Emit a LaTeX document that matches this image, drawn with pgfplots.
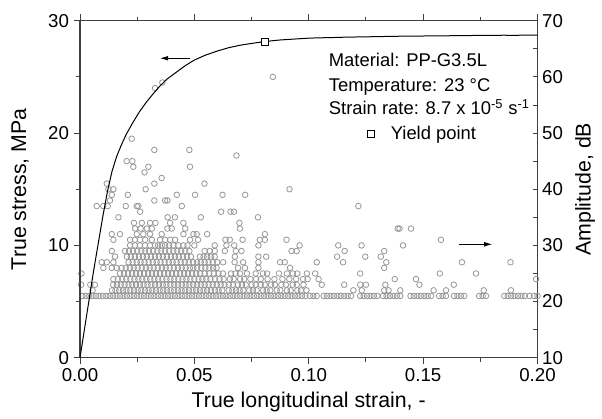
\documentclass[border=0pt]{standalone}
\usepackage{fontspec}
\setmainfont{Liberation Sans}
\usepackage{pgfplots}
\pgfplotsset{compat=1.18}
\usetikzlibrary{arrows.meta}
\definecolor{aegray}{RGB}{150,150,150}

\pgfplotstableread{
x y
0 0
0.002 2.6
0.004 5.2
0.006 7.8
0.008 10.2
0.010 12.6
0.012 14.8
0.014 16.6
0.016 17.9
0.018 18.9
0.020 19.8
0.023 20.9
0.026 21.9
0.029 22.75
0.032 23.5
0.035 24.2
0.038 24.8
0.042 25.4
0.046 26.0
0.050 26.5
0.055 26.95
0.060 27.3
0.065 27.6
0.070 27.82
0.075 27.98
0.081 28.15
0.087 28.28
0.093 28.36
0.100 28.45
0.105 28.48
0.110 28.5
0.115 28.53
0.120 28.55
0.125 28.57
0.130 28.58
0.135 28.61
0.140 28.62
0.145 28.62
0.150 28.64
0.155 28.66
0.160 28.66
0.165 28.67
0.170 28.68
0.175 28.7
0.180 28.69
0.185 28.71
0.190 28.7
0.195 28.72
0.200 28.72
}\stresscurve

\newcommand{\annfont}{\fontsize{13.8}{16}\selectfont}

\pgfplotsset{
  common/.style={
    scale only axis, width=343.1pt, height=252.75pt,
    xmin=0, xmax=0.2,
    axis line style={line width=0.8pt, black!75},
    every tick/.style={line width=0.7pt, black!75},
    tick label style={font=\fontsize{14}{16}\selectfont},
    label style={font=\fontsize{16}{18}\selectfont},
    /pgf/number format/assume math mode=true,
  }
}

\begin{document}
\begin{tikzpicture}[x=1pt,y=1pt]
\useasboundingbox (-60,-45.2) rectangle (391.5,268.3);

% Amplitude axis (right)
\begin{axis}[common,
  axis x line=none, axis y line*=right,
  ymin=10, ymax=70, ytick={10,20,30,40,50,60,70}, minor y tick num=1,
  tick align=inside, major tick length=3.2pt, minor tick length=3.2pt,
  ylabel={Amplitude, dB},
  ylabel style={at={(axis description cs:1.104,0.5)}, anchor=center},
]
\addplot[only marks, mark=o, mark size=2.1pt, color=aegray, mark options={line width=0.6pt}] coordinates {
(0.0010,21) (0.0025,21) (0.0040,21) (0.0055,21) (0.0070,21) (0.0085,21) (0.0100,21) (0.0115,21) (0.0130,21) (0.0145,21)
(0.0160,21) (0.0175,21) (0.0190,21) (0.0205,21) (0.0220,21) (0.0235,21) (0.0250,21) (0.0265,21) (0.0280,21) (0.0295,21)
(0.0310,21) (0.0325,21) (0.0340,21) (0.0355,21) (0.0370,21) (0.0385,21) (0.0400,21) (0.0415,21) (0.0430,21) (0.0445,21)
(0.0460,21) (0.0475,21) (0.0490,21) (0.0505,21) (0.0520,21) (0.0535,21) (0.0550,21) (0.0565,21) (0.0580,21) (0.0595,21)
(0.0610,21) (0.0625,21) (0.0640,21) (0.0655,21) (0.0670,21) (0.0685,21) (0.0700,21) (0.0715,21) (0.0730,21) (0.0745,21)
(0.0760,21) (0.0775,21) (0.0790,21) (0.0805,21) (0.0820,21) (0.0835,21) (0.0850,21) (0.0865,21) (0.0880,21) (0.0895,21)
(0.0910,21) (0.0925,21) (0.0940,21) (0.0955,21) (0.0970,21) (0.0985,21)
(0.1005,21) (0.1020,21) (0.1035,21) (0.1065,21) (0.1080,21) (0.1095,21) (0.1110,21) (0.1125,21) (0.1140,21) (0.1155,21)
(0.1170,21) (0.1185,21) (0.1225,21) (0.1240,21) (0.1255,21) (0.1270,21) (0.1285,21) (0.1300,21) (0.1325,21) (0.1340,21)
(0.1355,21) (0.1370,21) (0.1385,21) (0.1400,21) (0.1445,21) (0.1460,21) (0.1475,21) (0.1490,21) (0.1505,21) (0.1520,21)
(0.1535,21) (0.1570,21) (0.1585,21) (0.1600,21) (0.1635,21) (0.1650,21) (0.1665,21) (0.1680,21) (0.1745,21) (0.1760,21)
(0.1775,21) (0.1855,21) (0.1870,21) (0.1885,21) (0.1900,21) (0.1915,21) (0.1930,21) (0.1945,21) (0.1965,21) (0.1985,21) (0.2000,21)
(0.0055,22) (0.0140,22) (0.0155,22) (0.0172,22) (0.0188,22) (0.0203,22) (0.0220,22) (0.0236,22) (0.0252,22) (0.0268,22)
(0.0284,22) (0.0300,22) (0.0316,22) (0.0332,22) (0.0348,22) (0.0364,22) (0.0380,22) (0.0396,22) (0.0412,22) (0.0428,22)
(0.0444,22) (0.0460,22) (0.0476,22) (0.0492,22) (0.0508,22) (0.0524,22) (0.0540,22) (0.0556,22) (0.0572,22) (0.0590,22)
(0.0606,22) (0.0622,22) (0.0650,22) (0.0666,22) (0.0682,22) (0.0698,22) (0.0714,22) (0.0740,22) (0.0756,22) (0.0772,22)
(0.0800,22) (0.0816,22) (0.0832,22) (0.0860,22) (0.0876,22) (0.0905,22) (0.0921,22) (0.0950,22) (0.0966,22) (0.0990,22)
(0.1195,22) (0.1232,22) (0.1330,22) (0.1349,22) (0.1400,22) (0.1546,22) (0.1600,22) (0.1765,22) (0.1884,22)
(0.0005,23) (0.0045,23) (0.0065,23) (0.0145,23) (0.0162,23) (0.0178,23) (0.0195,23) (0.0212,23) (0.0228,23) (0.0245,23)
(0.0262,23) (0.0278,23) (0.0295,23) (0.0312,23) (0.0328,23) (0.0345,23) (0.0362,23) (0.0378,23) (0.0395,23) (0.0412,23)
(0.0428,23) (0.0445,23) (0.0462,23) (0.0478,23) (0.0495,23) (0.0512,23) (0.0528,23) (0.0545,23) (0.0562,23) (0.0580,23)
(0.0598,23) (0.0615,23) (0.0632,23) (0.0650,23) (0.0668,23) (0.0690,23) (0.0708,23) (0.0725,23) (0.0750,23) (0.0768,23)
(0.0790,23) (0.0808,23) (0.0835,23) (0.0852,23) (0.0880,23) (0.0900,23) (0.0930,23) (0.0948,23) (0.0977,23)
(0.1057,23) (0.1155,23) (0.1225,23) (0.1250,23) (0.1335,23) (0.1484,23) (0.1634,23)
(0.0146,24) (0.0165,24) (0.0185,24) (0.0202,24) (0.0220,24) (0.0238,24) (0.0255,24) (0.0272,24) (0.0290,24) (0.0307,24)
(0.0325,24) (0.0342,24) (0.0360,24) (0.0378,24) (0.0395,24) (0.0412,24) (0.0430,24) (0.0448,24) (0.0465,24) (0.0482,24)
(0.0500,24) (0.0518,24) (0.0535,24) (0.0552,24) (0.0570,24) (0.0590,24) (0.0610,24) (0.0628,24) (0.0655,24) (0.0672,24)
(0.0700,24) (0.0718,24) (0.0745,24) (0.0770,24) (0.0790,24) (0.0820,24) (0.0850,24) (0.0885,24) (0.0915,24) (0.0945,24)
(0.0975,24) (0.0995,24) (0.1043,24) (0.1376,24) (0.1469,24) (0.1994,24)
(0.0006,25) (0.0175,25) (0.0192,25) (0.0210,25) (0.0228,25) (0.0245,25) (0.0262,25) (0.0280,25) (0.0298,25) (0.0315,25)
(0.0332,25) (0.0350,25) (0.0368,25) (0.0385,25) (0.0402,25) (0.0420,25) (0.0438,25) (0.0455,25) (0.0472,25) (0.0490,25)
(0.0508,25) (0.0525,25) (0.0545,25) (0.0565,25) (0.0585,25) (0.0605,25) (0.0625,25) (0.0660,25) (0.0680,25) (0.0700,25)
(0.0730,25) (0.0768,25) (0.0800,25) (0.0818,25) (0.0870,25) (0.0905,25) (0.0930,25) (0.0950,25)
(0.0992,25) (0.1028,25) (0.1225,25) (0.1573,25) (0.1731,25)
(0.0102,26) (0.0139,26) (0.0160,26) (0.0182,26) (0.0200,26) (0.0218,26) (0.0235,26) (0.0252,26) (0.0270,26) (0.0288,26)
(0.0305,26) (0.0322,26) (0.0340,26) (0.0358,26) (0.0375,26) (0.0392,26) (0.0410,26) (0.0428,26) (0.0445,26) (0.0462,26)
(0.0480,26) (0.0495,26) (0.0512,26) (0.0530,26) (0.0548,26) (0.0565,26) (0.0582,26) (0.0597,26) (0.0691,26) (0.0721,26)
(0.0780,26) (0.0918,26) (0.1330,26)
(0.0095,27) (0.0117,27) (0.0146,27) (0.0212,27) (0.0230,27) (0.0248,27) (0.0265,27) (0.0282,27) (0.0300,27) (0.0318,27)
(0.0335,27) (0.0352,27) (0.0370,27) (0.0388,27) (0.0405,27) (0.0422,27) (0.0440,27) (0.0458,27) (0.0475,27) (0.0495,27)
(0.0512,27) (0.0528,27) (0.0545,27) (0.0562,27) (0.0580,27) (0.0600,27) (0.0626,27) (0.0676,27) (0.0713,27) (0.0780,27)
(0.0875,27) (0.0895,27) (0.1035,27) (0.1150,27) (0.1339,27) (0.1670,27) (0.1882,27)
(0.0153,28) (0.0205,28) (0.0222,28) (0.0240,28) (0.0258,28) (0.0275,28) (0.0292,28) (0.0310,28) (0.0328,28) (0.0345,28)
(0.0362,28) (0.0380,28) (0.0398,28) (0.0415,28) (0.0432,28) (0.0450,28) (0.0468,28) (0.0485,28) (0.0524,28) (0.0540,28)
(0.0556,28) (0.0572,28) (0.0589,28) (0.0677,28) (0.0780,28) (0.0814,28) (0.1124,28) (0.1247,28) (0.1315,28)
(0.0139,29) (0.0197,29) (0.0214,29) (0.0232,29) (0.0250,29) (0.0268,29) (0.0285,29) (0.0302,29) (0.0320,29) (0.0338,29)
(0.0355,29) (0.0372,29) (0.0390,29) (0.0408,29) (0.0425,29) (0.0442,29) (0.0460,29) (0.0478,29) (0.0545,29) (0.0567,29)
(0.0589,29) (0.0633,29) (0.0681,29) (0.0706,29) (0.0925,29) (0.0947,29) (0.1157,29) (0.1330,29)
(0.0219,30) (0.0240,30) (0.0262,30) (0.0284,30) (0.0306,30) (0.0328,30) (0.0342,30) (0.0358,30) (0.0372,30) (0.0390,30)
(0.0408,30) (0.0430,30) (0.0452,30) (0.0470,30) (0.0500,30) (0.0589,30) (0.0640,30) (0.0674,30) (0.0780,30) (0.0960,30)
(0.1129,30) (0.1231,30) (0.1412,30)
(0.0146,31) (0.0219,31) (0.0240,31) (0.0262,31) (0.0285,31) (0.0314,31) (0.0350,31) (0.0372,31) (0.0394,31) (0.0416,31)
(0.0481,31) (0.0516,31) (0.0636,31) (0.0655,31) (0.0711,31) (0.0786,31) (0.0808,31) (0.0903,31) (0.1578,31)
(0.0139,32) (0.0175,32) (0.0248,32) (0.0277,32) (0.0306,32) (0.0357,32) (0.0452,32) (0.0496,32) (0.0510,32) (0.0556,32) (0.0808,32)
(0.0241,33) (0.0265,33) (0.0292,33) (0.0314,33) (0.0382,33) (0.0401,33) (0.0460,33) (0.0699,33) (0.1389,33) (0.1397,33) (0.1447,33)
(0.0236,34) (0.0270,34) (0.0306,34) (0.0330,34) (0.0394,34) (0.0452,34) (0.0697,34)
(0.0168,35) (0.0383,35) (0.0415,35) (0.0528,35) (0.0778,35)
(0.0263,36) (0.0617,36) (0.0658,36) (0.0673,36)
(0.0073,37) (0.0102,37) (0.0121,37) (0.0200,37) (0.0248,37) (0.0255,37) (0.0445,37) (0.1217,37)
(0.0131,38) (0.0325,38) (0.0372,38) (0.0382,38)
(0.0139,39) (0.0209,39) (0.0423,39) (0.0503,39) (0.0623,39) (0.0722,39)
(0.0124,40) (0.0146,40) (0.0287,40) (0.0916,40)
(0.0117,41) (0.0325,41) (0.0544,41)
(0.0357,42) (0.0282,43)
(0.0233,44) (0.0299,44) (0.0481,44)
(0.0204,45) (0.0229,45)
(0.0684,46) (0.0325,47) (0.0478,47) (0.0226,49)
(0.0328,58) (0.0360,59) (0.0843,60)
};
\end{axis}

% Stress axis (left)
\begin{axis}[common,
  axis y line*=left,
  ymin=0, ymax=30, ytick={0,10,20,30}, minor y tick num=1,
  xtick={0,0.05,0.1,0.15,0.2}, minor x tick num=1,
  xticklabel style={/pgf/number format/.cd, fixed, fixed zerofill, precision=2},
  scaled x ticks=false,
  tick align=outside, major tick length=4.8pt, minor tick length=3pt,
  xlabel={True longitudinal strain, -},
  ylabel={True stress, MPa},
  xlabel style={at={(axis description cs:0.5,-0.131)}, anchor=center},
  ylabel style={at={(axis description cs:-0.131,0.5)}, anchor=center},
  legend image code/.code={\draw[#1] plot coordinates {(0pt,0pt)};},
  legend style={draw=none, fill=none, at={(axis description cs:0.620,0.665)}, anchor=west,
    column sep=10pt, font=\annfont},
]
\addplot[black, line width=0.75pt, forget plot] table {\stresscurve};
\addplot[only marks, mark=square*, mark size=2.6pt, mark options={fill=white, draw=black, line width=0.6pt}] coordinates {(0.081,28.15)};
\addlegendentry{Yield point}
\draw[line width=0.6pt, -{Latex[length=6pt,width=3.5pt]}] (axis cs:0.0481,26.66) -- (axis cs:0.0350,26.66);
\draw[line width=0.6pt, -{Latex[length=6pt,width=3.5pt]}] (axis cs:0.1656,10.1) -- (axis cs:0.1802,10.1);
\node[anchor=base west, inner sep=0pt] at (axis cs:0.1087,25.91) {\annfont Material: PP-G3.5L};
\node[anchor=base west, inner sep=0pt] at (axis cs:0.1087,23.69) {\annfont Temperature: 23 °C};
\node[anchor=base west, inner sep=0pt] at (axis cs:0.1087,21.61) {\annfont Strain rate: 8.7 x 10\textsuperscript{-5} s\textsuperscript{-1}};
\end{axis}
\end{tikzpicture}
\end{document}
